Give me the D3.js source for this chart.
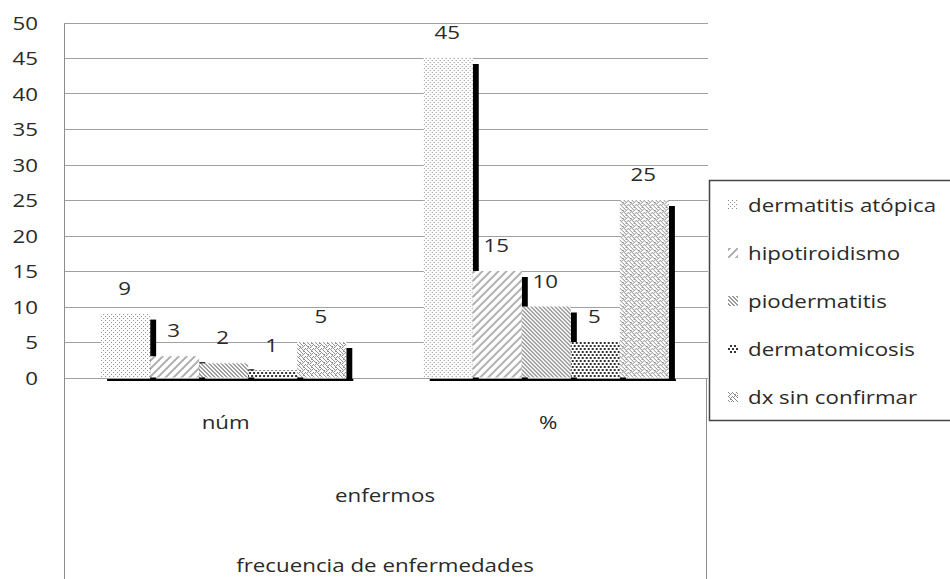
<!DOCTYPE html>
<html>
<head>
<meta charset="utf-8">
<script src="https://cdn.jsdelivr.net/npm/d3@7"></script>
<style>
  html, body { margin: 0; padding: 0; background: #fff; }
  svg { display: block; }
  text { font-family: "Open Sans", Lato, sans-serif; fill: #2a2a2a; }
</style>
</head>
<body>
<svg id="chart" width="950" height="579"></svg>
<script>
// Frecuencia de enfermedades: número de enfermos y porcentaje
const categories = ["núm", "%"];
const seriesNames = ["dermatitis atópica", "hipotiroidismo", "piodermatitis", "dermatomicosis", "dx sin confirmar"];
const numValues = [9, 3, 2, 1, 5];
const pctValues = [45, 15, 10, 5, 25];
const yTicks = [0, 5, 10, 15, 20, 25, 30, 35, 40, 45, 50];
const axisTitle = "enfermos";
const chartTitle = "frecuencia de enfermedades";

const table = categories.map((c, ci) => ({
  category: c,
  values: seriesNames.map((s, si) => ({ series: s, value: ci === 0 ? numValues[si] : pctValues[si] }))
}));

const W = 950, H = 579;
const plot = { left: 64, right: 706, top: 22.5, bottom: 377.5 };
const TEXT_SX = 1.24;      // wide lettering
const FONT = 18;
const DEPTH_X = 7, DEPTH_Y = 6;   // dark side face of each column

const svg = d3.select("#chart");
const defs = svg.append("defs");

// ---- fill patterns ----
function pixelPattern(id, w, h, color, pixels) {
  const p = defs.append("pattern").attr("id", id)
    .attr("patternUnits", "userSpaceOnUse").attr("width", w).attr("height", h);
  p.append("rect").attr("width", w).attr("height", h).attr("fill", "#fff");
  pixels.forEach(([x, y, pw, ph]) => p.append("rect")
    .attr("x", x).attr("y", y).attr("width", pw || 1).attr("height", ph || 1).attr("fill", color));
  return p;
}
// fine dots
pixelPattern("pat0", 4, 4, "#8a8a8a", [[0, 0], [2, 2]]);
// wide upward diagonal
(function () {
  const px = [];
  for (let y = 0; y < 8; y++) for (let x = 0; x < 8; x++) {
    if (((x + y) % 8) < 3) px.push([x, y]);
  }
  pixelPattern("pat1", 8, 8, "#b4b4b4", px);
})();
// dense downward diagonal
(function () {
  const px = [];
  for (let y = 0; y < 4; y++) for (let x = 0; x < 4; x++) {
    if (((x - y + 8) % 4) < 2) px.push([x, y]);
  }
  pixelPattern("pat2", 4, 4, "#9a9a9a", px);
})();
// dark sphere dots
pixelPattern("pat3", 8, 6, "#333", [[0, 0, 2, 2], [4, 0, 2, 2], [2, 3, 2, 2], [6, 3, 2, 2]]);
// weave
(function () {
  const p = defs.append("pattern").attr("id", "pat4")
    .attr("patternUnits", "userSpaceOnUse").attr("width", 8).attr("height", 8);
  p.append("rect").attr("width", 8).attr("height", 8).attr("fill", "#fff");
  const px = [
    [0,0],[4,0],[1,1],[3,1],[5,1],[2,2],[6,2],[7,2],[1,3],[7,3],[0,4],[4,4],[6,4],
    [1,5],[3,5],[5,5],[2,6],[6,6],[3,7],[7,7],[2,7]
  ];
  px.forEach(([x, y]) => p.append("rect").attr("x", x).attr("y", y)
    .attr("width", 1).attr("height", 1).attr("fill", "#8c8c8c"));
})();
const patternOf = d3.scaleOrdinal().domain(seriesNames)
  .range(seriesNames.map((s, i) => `url(#pat${i})`));

// ---- scales ----
const y = d3.scaleLinear().domain([0, 50]).range([plot.bottom, plot.top]);
const x0 = d3.scaleBand().domain(categories).range([plot.left, plot.right])
  .paddingInner(0.24).paddingOuter(0.115);
const x1 = d3.scaleBand().domain(seriesNames).range([0, x0.bandwidth()]).padding(0);

function label(parent, x, yy, str, anchor, size) {
  const g = parent.append("g").attr("transform", `translate(${x},${yy}) scale(${TEXT_SX},1)`);
  return g.append("text").attr("text-anchor", anchor || "middle")
    .attr("dominant-baseline", "central")
    .attr("font-size", size || FONT).text(str);
}

// ---- grid & frame ----
const grid = svg.append("g");
yTicks.forEach(t => {
  grid.append("line")
    .attr("x1", plot.left).attr("x2", plot.right + 2)
    .attr("y1", Math.round(y(t)) + 0.5).attr("y2", Math.round(y(t)) + 0.5)
    .attr("stroke", "#a0a0a0").attr("stroke-width", 1);
});
grid.append("line").attr("x1", plot.left + 0.5).attr("x2", plot.left + 0.5)
  .attr("y1", Math.round(y(50)) + 0.5).attr("y2", H).attr("stroke", "#8c8c8c");
grid.append("line").attr("x1", plot.right + 0.5).attr("x2", plot.right + 0.5)
  .attr("y1", Math.round(y(0)) + 0.5).attr("y2", H).attr("stroke", "#8c8c8c");

// y tick labels
const yAxis = svg.append("g");
yTicks.forEach(t => label(yAxis, 38, y(t), String(t), "end"));

// ---- columns ----
const groups = svg.selectAll("g.cat").data(table).join("g")
  .attr("class", "cat")
  .attr("transform", d => `translate(${x0(d.category)},0)`);

// floor edge
groups.append("line")
  .attr("x1", 6).attr("x2", x0.bandwidth() + DEPTH_X)
  .attr("y1", y(0) + 2.5).attr("y2", y(0) + 2.5)
  .attr("stroke", "#000").attr("stroke-width", 2);

groups.each(function (d) {
  const g = d3.select(this);
  d.values.forEach(v => {
    const bx = x1(v.series), bw = x1.bandwidth();
    g.append("rect")
      .attr("x", bx + bw).attr("width", DEPTH_X - 1)
      .attr("y", y(v.value) + DEPTH_Y)
      .attr("height", y(0) + 2.5 - (y(v.value) + DEPTH_Y))
      .attr("fill", "#000");
    g.append("rect")
      .attr("x", bx).attr("width", bw)
      .attr("y", y(v.value)).attr("height", y(0) - y(v.value))
      .attr("fill", patternOf(v.series));
  });
  d.values.forEach(v => {
    label(g, x1(v.series) + x1.bandwidth() / 2 - 1, y(v.value) - 26, String(v.value), "middle");
  });
});

// category labels
categories.forEach(c => label(svg, x0(c) + x0.bandwidth() / 2 + 2, 422, c, "middle"));
label(svg, (plot.left + plot.right) / 2, 495, axisTitle, "middle");
label(svg, (plot.left + plot.right) / 2, 565, chartTitle, "middle");

// ---- legend ----
const legend = svg.append("g");
legend.append("rect")
  .attr("x", 709.5).attr("y", 180.5).attr("width", 300).attr("height", 240)
  .attr("fill", "#fff").attr("stroke", "#444").attr("stroke-width", 1.5);
seriesNames.forEach((s, i) => {
  const cy = 205 + i * 48;
  legend.append("rect").attr("x", 728).attr("y", cy - 5).attr("width", 10).attr("height", 10)
    .attr("fill", patternOf(s));
  label(legend, 748, cy, s, "start");
});
</script>
</body>
</html>
